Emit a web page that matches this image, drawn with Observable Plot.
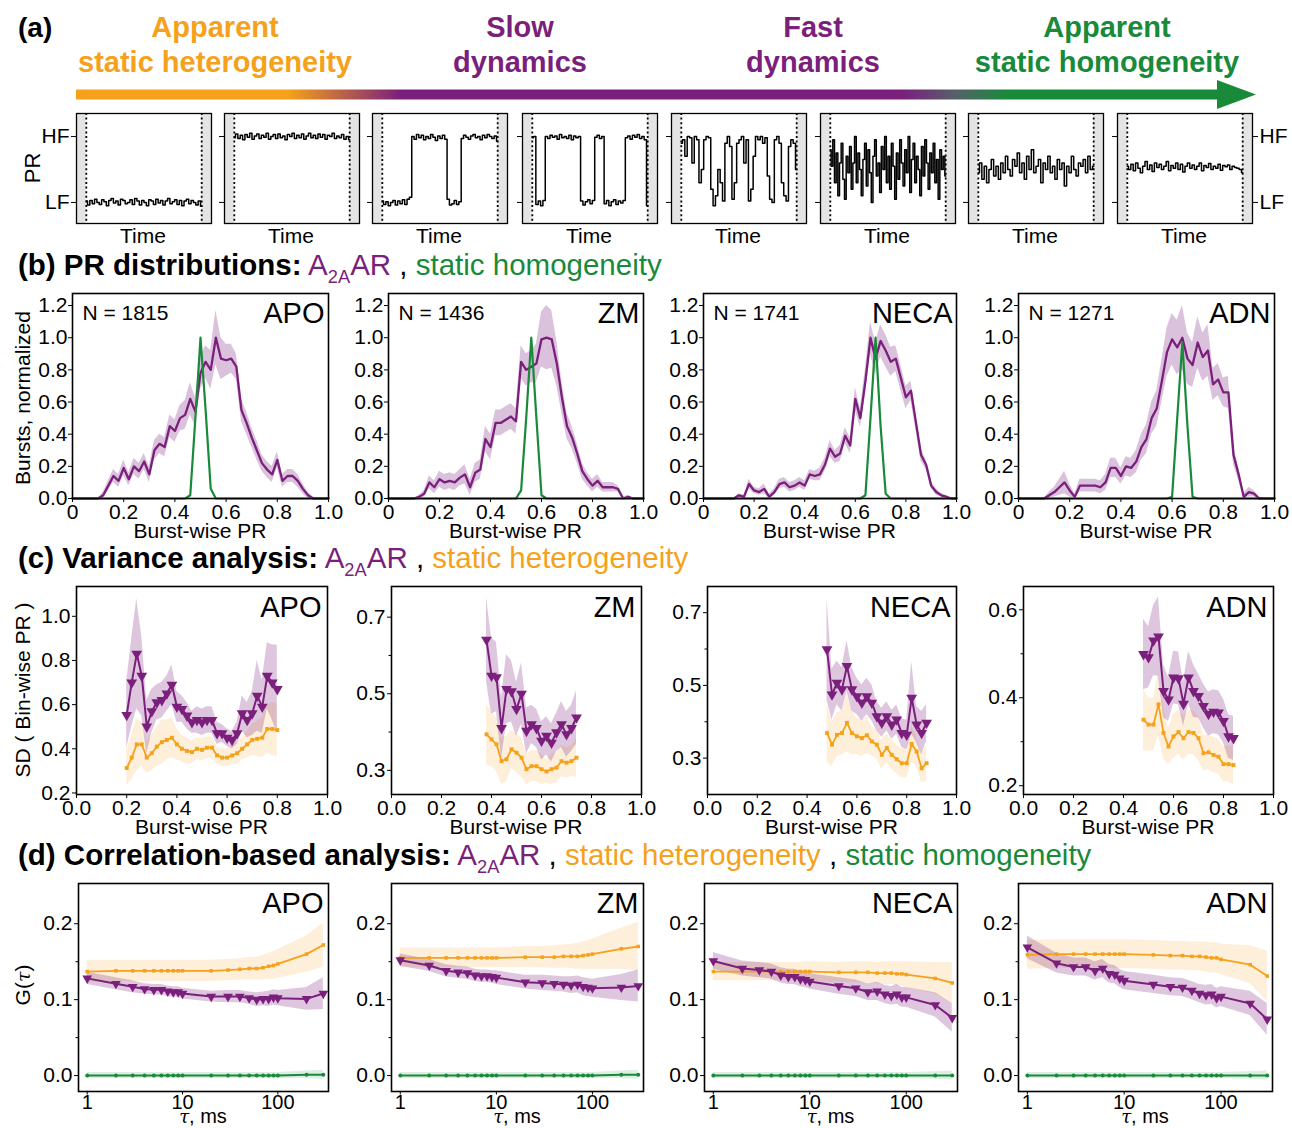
<!DOCTYPE html>
<html><head><meta charset="utf-8">
<script src="https://cdn.jsdelivr.net/npm/d3@7"></script>
<script src="https://cdn.jsdelivr.net/npm/@observablehq/plot@0.6"></script>
<style>
body{margin:0;background:#fff;}
#root{position:relative;width:1292px;height:1128px;overflow:hidden;background:#fff;}
</style></head><body><div id="root"></div>
<script>
// ---------------- DATA ----------------
const DRUGS = ["APO", "ZM", "NECA", "ADN"];
const N_BURSTS = [1815, 1436, 1741, 1271];
const REGIME_LABELS = [["Apparent", "static heterogeneity"], ["Slow", "dynamics"], ["Fast", "dynamics"], ["Apparent", "static homogeneity"]];

// (a) schematic PR traces (0 = LF, 1 = HF)
const TRACE_1 = [0.02,-0.04,0.03,-0.02,0.05,0,-0.03,0.04,0.01,-0.05,0.03,0.06,-0.01,0.02,-0.04,0.05,0.03,-0.02,0.0,0.04,-0.03,0.06,0.02,-0.04,0.03,0.0,-0.05,0.04,0.02,-0.03,0.05,-0.01,0.03,-0.04,0.02,0.06,-0.02,0.01,0.04,-0.03,0.03,-0.05,0.02,0.05,-0.02,0.03,0.0,-0.04,0.02,-0.06];
const TRACE_2 = [0.98,1.04,0.97,1.02,0.95,1.03,0.99,1.05,0.96,1.01,1.04,0.97,1.02,0.99,1.05,0.96,1.0,1.03,0.97,1.04,0.98,1.01,0.95,1.03,1.0,1.05,0.97,1.02,0.98,1.04,0.96,1.01,1.05,0.98,1.02,0.97,1.04,0.99,1.03,0.96,1.02,1.0,1.05,0.97,1.01,0.98,1.03,0.96,1.0,0.95];
const TRACE_3 = [0.02,-0.03,0.01,-0.05,0.0,0.03,-0.04,0.02,-0.02,0.04,-0.03,0.05,0.08,1.0,0.96,1.03,0.98,1.02,0.95,1.0,0.97,1.03,0.99,0.94,1.01,0.97,1.02,0.96,0.05,-0.04,-0.02,0.03,-0.03,0.01,0.97,1.02,0.99,0.96,1.01,1.03,0.98,1.0,0.95,1.02,0.98,1.03,1.0,0.97,1.01,0.93];
const TRACE_4 = [0.98,1.0,-0.03,0.02,-0.05,0.03,1.0,0.97,1.02,0.99,1.01,0.96,1.03,0.98,1.0,0.97,1.02,0.95,1.01,0.98,1.0,0.02,-0.04,0.01,0.04,-0.02,0.03,0.99,1.02,0.97,1.0,-0.02,0.03,-0.05,0.01,0.04,-0.03,0.02,-0.01,0.03,0.98,1.01,0.96,1.02,0.99,1.03,0.97,1.0,0.95,-0.05];
const TRACE_5 = [0.9,0.95,0.7,1.0,0.98,0.6,1.0,0.95,0.3,0.5,0.95,1.0,0.98,0.2,-0.05,0.1,0.5,0.3,0.02,0.9,1.0,0.85,0.05,0.3,0.9,0.95,1.0,0.6,0.95,0.02,0.2,0.7,1.0,0.95,1.0,0.9,0.98,0.4,0.05,0.0,0.95,1.0,0.9,0.3,0.1,0.02,0.85,0.95,0.9,0.5];
const TRACE_6 = [0.8,0.55,0.95,0.3,0.75,0.1,0.6,0.9,0.35,0.05,0.7,0.45,0.85,0.2,0.6,1.0,0.3,0.75,0.5,0.1,0.65,0.9,0.25,0.8,0.45,0.0,0.7,0.95,0.4,0.6,0.15,0.85,0.5,1.0,0.3,0.7,0.2,0.9,0.55,0.05,0.75,0.35,0.95,0.6,0.25,0.8,0.45,1.0,0.15,0.65,0.9,0.3,0.7,0.5,0.1,0.85,0.4,0.95,0.6,0.2,0.75,0.45,0.9,0.3,0.65,0.05,0.8,0.5,0.7,0.4];
const TRACE_7 = [0.45,0.6,0.35,0.55,0.3,0.5,0.65,0.4,0.55,0.35,0.6,0.45,0.7,0.5,0.4,0.65,0.55,0.75,0.45,0.6,0.35,0.7,0.5,0.8,0.45,0.55,0.65,0.3,0.6,0.5,0.7,0.45,0.55,0.35,0.65,0.5,0.6,0.25,0.55,0.45,0.7,0.5,0.4,0.6,0.55,0.65,0.45,0.7,0.5,0.55];
const TRACE_8 = [0.55,0.5,0.58,0.48,0.6,0.52,0.45,0.55,0.62,0.5,0.57,0.47,0.6,0.53,0.58,0.5,0.55,0.62,0.48,0.56,0.52,0.6,0.5,0.58,0.46,0.55,0.6,0.52,0.57,0.5,0.55,0.6,0.48,0.56,0.53,0.59,0.5,0.55,0.52,0.58,0.49,0.56,0.54,0.57,0.5,0.55,0.53,0.52,0.5,0.45];

// (b) PR distributions
const PR_BINS = [0,0.02,0.04,0.06,0.08,0.1,0.12,0.14,0.16,0.18,0.2,0.22,0.24,0.26,0.28,0.3,0.32,0.34,0.36,0.38,0.4,0.42,0.44,0.46,0.48,0.5,0.52,0.54,0.56,0.58,0.6,0.62,0.64,0.66,0.68,0.7,0.72,0.74,0.76,0.78,0.8,0.82,0.84,0.86,0.88,0.9,0.92,0.94,0.96,0.98,1.0];
const APO_PR = [0,0,0,0,0,0,0.02,0.08,0.14,0.11,0.19,0.12,0.20,0.17,0.23,0.15,0.30,0.34,0.32,0.45,0.42,0.50,0.52,0.62,0.54,0.78,0.85,0.80,1.00,0.87,0.86,0.87,0.82,0.55,0.47,0.38,0.30,0.22,0.18,0.15,0.24,0.11,0.14,0.14,0.11,0.06,0.02,0,0,0,0];
const ZM_PR = [0,0,0,0,0,0,0.01,0.03,0.10,0.07,0.12,0.10,0.11,0.10,0.13,0.15,0.07,0.16,0.18,0.37,0.32,0.47,0.47,0.49,0.51,0.48,0.85,0.80,0.82,0.84,0.99,1.00,0.99,0.84,0.63,0.45,0.38,0.28,0.17,0.12,0.08,0.11,0.07,0.07,0.07,0.06,0,0.01,0,0,0];
const NECA_PR = [0,0,0,0,0,0,0,0.02,0.01,0.09,0.05,0.04,0.06,0.01,0.04,0.09,0.10,0.07,0.08,0.10,0.08,0.15,0.14,0.15,0.21,0.31,0.26,0.28,0.39,0.33,0.62,0.50,0.73,1.00,0.87,0.98,0.92,0.85,0.87,0.75,0.63,0.67,0.47,0.27,0.21,0.08,0.04,0.02,0.01,0,0];
const ADN_PR = [0,0,0,0,0,0,0.02,0.04,0.07,0.10,0.05,0.01,0.08,0.08,0.08,0.08,0.07,0.10,0.19,0.19,0.14,0.20,0.19,0.23,0.32,0.37,0.50,0.56,0.73,0.91,0.99,0.94,1.00,0.87,0.83,0.97,0.88,0.92,0.71,0.74,0.66,0.66,0.27,0.15,0.01,0.04,0.03,0,0,0,0];
const APO_PR_ERR = [0,0,0,0,0,0,0.02,0.03,0.04,0.04,0.05,0.04,0.05,0.05,0.05,0.05,0.06,0.06,0.06,0.07,0.07,0.08,0.09,0.10,0.09,0.10,0.10,0.12,0.17,0.13,0.10,0.09,0.08,0.07,0.07,0.06,0.06,0.05,0.05,0.05,0.05,0.04,0.04,0.04,0.04,0.03,0.02,0.01,0,0,0];
const ZM_PR_ERR = [0,0,0,0,0,0,0.01,0.02,0.04,0.04,0.05,0.05,0.05,0.05,0.05,0.06,0.05,0.06,0.06,0.08,0.08,0.08,0.08,0.08,0.08,0.08,0.10,0.10,0.10,0.12,0.17,0.20,0.18,0.14,0.10,0.08,0.07,0.06,0.05,0.04,0.04,0.04,0.03,0.03,0.03,0.02,0.01,0.01,0,0,0];
const NECA_PR_ERR = [0,0,0,0,0,0,0,0.01,0.01,0.03,0.02,0.02,0.03,0.02,0.02,0.03,0.03,0.03,0.03,0.03,0.03,0.03,0.03,0.04,0.04,0.05,0.04,0.05,0.05,0.05,0.07,0.06,0.08,0.10,0.10,0.10,0.10,0.09,0.08,0.08,0.07,0.06,0.05,0.04,0.03,0.02,0.02,0.01,0.01,0,0];
const ADN_PR_ERR = [0,0,0,0,0,0,0.02,0.03,0.05,0.07,0.04,0.02,0.04,0.04,0.04,0.04,0.04,0.05,0.06,0.06,0.05,0.06,0.06,0.07,0.08,0.09,0.10,0.11,0.13,0.15,0.16,0.17,0.20,0.16,0.14,0.16,0.15,0.16,0.10,0.10,0.09,0.10,0.06,0.04,0.02,0.03,0.02,0.01,0,0,0];
const APO_PR_HOMO = [0,0,0,0,0,0,0,0,0,0,0,0,0,0,0,0,0,0,0,0,0,0,0,0.02,0.5,1.0,0.55,0.06,0,0,0,0,0,0,0,0,0,0,0,0,0,0,0,0,0,0,0,0,0,0,0];
const ZM_PR_HOMO = [0,0,0,0,0,0,0,0,0,0,0,0,0,0,0,0,0,0,0,0,0,0,0,0,0,0,0.05,0.5,1.0,0.5,0.02,0,0,0,0,0,0,0,0,0,0,0,0,0,0,0,0,0,0,0,0];
const NECA_PR_HOMO = [0,0,0,0,0,0,0,0,0,0,0,0,0,0,0,0,0,0,0,0,0,0,0,0,0,0,0,0,0,0,0,0,0.02,0.5,1.0,0.45,0.03,0,0,0,0,0,0,0,0,0,0,0,0,0,0];
const ADN_PR_HOMO = [0,0,0,0,0,0,0,0,0,0,0,0,0,0,0,0,0,0,0,0,0,0,0,0,0,0,0,0,0,0,0.01,0.5,0.97,0.45,0.01,0,0,0,0,0,0,0,0,0,0,0,0,0,0,0,0];

// (c) variance analysis
const APO_SD_X = [0.2,0.22,0.24,0.26,0.28,0.3,0.32,0.34,0.36,0.38,0.4,0.42,0.44,0.46,0.48,0.5,0.52,0.54,0.56,0.58,0.6,0.62,0.64,0.66,0.68,0.7,0.72,0.74,0.76,0.78,0.8];
const APO_SD_A2A = [0.553,0.70,0.83,0.73,0.50,0.57,0.61,0.62,0.65,0.69,0.59,0.58,0.55,0.52,0.53,0.52,0.53,0.53,0.47,0.47,0.45,0.44,0.47,0.56,0.53,0.56,0.64,0.59,0.73,0.70,0.67];
const APO_SD_A2A_ERR = [0.15,0.2,0.25,0.18,0.12,0.1,0.08,0.08,0.08,0.09,0.07,0.06,0.06,0.05,0.06,0.06,0.06,0.06,0.05,0.04,0.04,0.04,0.05,0.08,0.08,0.1,0.16,0.12,0.15,0.17,0.2];
const APO_SD_HET = [0.313,0.36,0.42,0.42,0.36,0.38,0.41,0.43,0.44,0.45,0.42,0.40,0.39,0.385,0.40,0.395,0.405,0.405,0.37,0.36,0.36,0.37,0.38,0.40,0.42,0.44,0.445,0.45,0.49,0.49,0.485];
const APO_SD_HET_ERR = [0.08,0.1,0.12,0.1,0.07,0.08,0.09,0.1,0.09,0.09,0.07,0.06,0.06,0.05,0.05,0.05,0.05,0.05,0.04,0.04,0.04,0.04,0.05,0.05,0.06,0.07,0.08,0.09,0.11,0.12,0.12];
const ZM_SD_X = [0.38,0.4,0.42,0.44,0.46,0.48,0.5,0.52,0.54,0.56,0.58,0.6,0.62,0.64,0.66,0.68,0.7,0.72,0.74];
const ZM_SD_A2A = [0.641,0.547,0.543,0.41,0.512,0.506,0.46,0.50,0.403,0.42,0.41,0.377,0.39,0.372,0.399,0.42,0.394,0.41,0.438];
const ZM_SD_A2A_ERR = [0.11,0.1,0.09,0.08,0.09,0.08,0.07,0.08,0.06,0.05,0.05,0.05,0.05,0.05,0.05,0.06,0.06,0.06,0.07];
const ZM_SD_HET = [0.394,0.381,0.368,0.324,0.329,0.355,0.346,0.333,0.303,0.311,0.311,0.303,0.297,0.303,0.307,0.324,0.32,0.324,0.333];
const ZM_SD_HET_ERR = [0.08,0.07,0.07,0.06,0.06,0.05,0.05,0.05,0.04,0.04,0.04,0.04,0.03,0.04,0.04,0.04,0.04,0.04,0.05];
const NECA_SD_X = [0.48,0.5,0.52,0.54,0.56,0.58,0.6,0.62,0.64,0.66,0.68,0.7,0.72,0.74,0.76,0.78,0.8,0.82,0.84,0.86,0.88];
const NECA_SD_A2A = [0.599,0.475,0.507,0.489,0.553,0.489,0.47,0.452,0.47,0.452,0.415,0.397,0.415,0.392,0.406,0.369,0.364,0.466,0.392,0.369,0.397];
const NECA_SD_A2A_ERR = [0.14,0.07,0.06,0.06,0.07,0.06,0.05,0.05,0.05,0.05,0.04,0.04,0.04,0.04,0.04,0.04,0.04,0.1,0.05,0.06,0.05];
const NECA_SD_HET = [0.369,0.337,0.364,0.369,0.397,0.369,0.36,0.355,0.363,0.346,0.337,0.309,0.328,0.309,0.297,0.286,0.286,0.339,0.318,0.272,0.286];
const NECA_SD_HET_ERR = [0.08,0.06,0.06,0.06,0.08,0.06,0.05,0.05,0.05,0.04,0.04,0.04,0.04,0.04,0.04,0.04,0.04,0.05,0.04,0.04,0.05];
const ADN_SD_X = [0.48,0.5,0.52,0.54,0.56,0.58,0.6,0.62,0.64,0.66,0.68,0.7,0.72,0.74,0.76,0.78,0.8,0.82,0.84];
const ADN_SD_A2A = [0.499,0.492,0.53,0.539,0.415,0.396,0.446,0.444,0.386,0.446,0.415,0.404,0.381,0.363,0.368,0.366,0.347,0.312,0.308];
const ADN_SD_A2A_ERR = [0.08,0.07,0.08,0.09,0.06,0.05,0.06,0.06,0.05,0.06,0.06,0.05,0.05,0.05,0.05,0.05,0.05,0.05,0.05];
const ADN_SD_HET = [0.35,0.339,0.339,0.385,0.32,0.289,0.312,0.322,0.308,0.322,0.32,0.308,0.274,0.276,0.27,0.266,0.249,0.249,0.247];
const ADN_SD_HET_ERR = [0.07,0.06,0.06,0.07,0.06,0.04,0.05,0.05,0.05,0.05,0.05,0.05,0.04,0.04,0.04,0.04,0.04,0.04,0.045];

// (d) correlation analysis
const TAU_MS = [1,2,3,4,5,6,7,8,9,10,20,30,40,50,60,70,80,90,100,200,300];
const APO_G_HET = [0.137,0.138,0.138,0.138,0.138,0.138,0.138,0.138,0.138,0.138,0.138,0.139,0.140,0.141,0.141,0.142,0.144,0.145,0.147,0.160,0.172];
const APO_G_A2A = [0.128,0.121,0.117,0.114,0.113,0.113,0.111,0.110,0.110,0.108,0.104,0.104,0.104,0.102,0.100,0.101,0.101,0.103,0.102,0.101,0.108];
const APO_G_HOMO = [0,0,0,0,0,0,0,0,0,0,0,0,0,0,0,0,0,0,0,0.001,0.001];
const ZM_G_HET = [0.155,0.155,0.155,0.155,0.155,0.155,0.155,0.155,0.155,0.155,0.156,0.156,0.156,0.157,0.157,0.157,0.158,0.159,0.160,0.167,0.170];
const ZM_G_A2A = [0.152,0.145,0.138,0.136,0.135,0.132,0.131,0.131,0.130,0.129,0.123,0.122,0.121,0.120,0.119,0.120,0.117,0.116,0.115,0.116,0.118];
const ZM_G_HOMO = [0,0,0,0,0,0,0,0,0,0,0,0,0,0,0,0,0,0,0,0.001,0.001];
const NECA_G_HET = [0.137,0.137,0.137,0.137,0.137,0.137,0.137,0.137,0.137,0.137,0.136,0.136,0.136,0.135,0.135,0.135,0.134,0.134,0.133,0.128,0.122];
const NECA_G_A2A = [0.151,0.141,0.139,0.137,0.132,0.130,0.130,0.127,0.126,0.124,0.118,0.115,0.110,0.111,0.107,0.105,0.107,0.103,0.103,0.093,0.076];
const NECA_G_HOMO = [0,0,0,0,0,0,0,0,0,0,0,0,0,0,0,0,0,0,0,0,0];
const ADN_G_HET = [0.159,0.160,0.160,0.160,0.160,0.160,0.160,0.160,0.160,0.160,0.159,0.158,0.158,0.157,0.157,0.156,0.155,0.155,0.153,0.146,0.131];
const ADN_G_A2A = [0.169,0.148,0.143,0.143,0.138,0.141,0.134,0.133,0.128,0.125,0.120,0.117,0.116,0.112,0.108,0.106,0.107,0.102,0.104,0.095,0.074];
const ADN_G_HOMO = [0,0,0,0,0,0,0,0,0,0,0,0,0,0,0,0,0,0,0,0,0];
const APO_G_HET_ERR = [0.015,0.014,0.014,0.014,0.014,0.014,0.014,0.014,0.014,0.014,0.014,0.014,0.014,0.015,0.015,0.016,0.017,0.018,0.019,0.024,0.029];
const APO_G_A2A_ERR = [0.008,0.008,0.008,0.007,0.007,0.007,0.007,0.007,0.007,0.007,0.007,0.008,0.008,0.008,0.009,0.009,0.010,0.010,0.010,0.015,0.021];
const ZM_G_HET_ERR = [0.013,0.013,0.013,0.013,0.013,0.013,0.013,0.013,0.013,0.013,0.014,0.014,0.015,0.015,0.016,0.017,0.018,0.019,0.020,0.027,0.032];
const ZM_G_A2A_ERR = [0.008,0.008,0.008,0.008,0.008,0.008,0.008,0.008,0.008,0.009,0.009,0.010,0.010,0.010,0.011,0.011,0.012,0.012,0.012,0.017,0.021];
const NECA_G_HET_ERR = [0.012,0.012,0.012,0.012,0.012,0.012,0.012,0.012,0.013,0.013,0.013,0.014,0.014,0.014,0.015,0.015,0.016,0.016,0.017,0.021,0.027];
const NECA_G_A2A_ERR = [0.011,0.010,0.010,0.010,0.010,0.010,0.010,0.010,0.010,0.010,0.011,0.011,0.011,0.012,0.012,0.012,0.013,0.013,0.013,0.016,0.019];
const ADN_G_HET_ERR = [0.019,0.019,0.019,0.019,0.019,0.019,0.019,0.019,0.019,0.019,0.019,0.019,0.019,0.019,0.019,0.020,0.020,0.020,0.020,0.025,0.033];
const ADN_G_A2A_ERR = [0.015,0.013,0.012,0.012,0.012,0.012,0.012,0.012,0.012,0.012,0.012,0.012,0.012,0.012,0.012,0.013,0.013,0.013,0.013,0.016,0.021];
const G_HOMO_ERR = [0.004,0.004,0.004,0.004,0.004,0.004,0.004,0.004,0.004,0.004,0.004,0.004,0.004,0.004,0.004,0.004,0.004,0.004,0.004,0.005,0.006];

// axis tick lists
const PR_TICKS = [0, 0.2, 0.4, 0.6, 0.8, 1.0];
const DIST_Y_TICKS = [0, 0.2, 0.4, 0.6, 0.8, 1.0, 1.2];
const TAU_TICKS = [1, 10, 100];
const G_TICKS = [0, 0.1, 0.2];
const G_MINOR = [0.05, 0.15];

// ---------------- STYLE / LAYOUT ----------------
const FONT = "'Liberation Sans', Arial, Helvetica, sans-serif";
const PURPLE = "#7B1F7C", ORANGE = "#F5A11B", GREEN = "#188A3A";
const root = document.getElementById("root");
const STYLE = {fontFamily: FONT, fontSize: "21px", color: "black", background: "transparent", overflow: "visible"};

function txt(html, x, y, o = {}) {
  const d = document.createElement("div");
  d.innerHTML = html;
  const size = o.size || 21;
  const tx = o.align === "start" ? "0" : "-50%";
  d.style.cssText = `position:absolute;left:${x}px;top:${y}px;font-family:${o.family || FONT};font-size:${size}px;font-weight:${o.weight || "normal"};color:${o.color || "#000"};line-height:1;white-space:nowrap;transform:translate(${tx},-50%) rotate(${o.rotate || 0}deg);`;
  root.appendChild(d);
}
function mount(plot, fl, ft, ml, mt) {
  plot.style.position = "absolute";
  plot.style.left = (fl - ml) + "px";
  plot.style.top = (ft - mt) + "px";
  root.appendChild(plot);
}
const TRI_DOWN = {draw(ctx, size) {
  const y = Math.sqrt(size / (Math.sqrt(3) * 3));
  ctx.moveTo(0, 2 * y); ctx.lineTo(-Math.sqrt(3) * y, -y); ctx.lineTo(Math.sqrt(3) * y, -y); ctx.closePath();
}};

// ---------------- (a) ----------------
txt("(a)", 18, 28, {size: 28, weight: "bold", align: "start"});
const HEAD_X = [215, 520, 813, 1107];
const HEAD_C = [ORANGE, PURPLE, PURPLE, GREEN];
REGIME_LABELS.forEach((l, i) => {
  txt(l[0], HEAD_X[i], 27, {size: 29, weight: "bold", color: HEAD_C[i]});
  txt(l[1], HEAD_X[i], 62, {size: 29, weight: "bold", color: HEAD_C[i]});
});
{
  const s = d3.create("svg").attr("width", 1292).attr("height", 130).style("position", "absolute").style("left", "0px").style("top", "0px");
  const g = s.append("defs").append("linearGradient").attr("id", "arrowGrad").attr("gradientUnits", "userSpaceOnUse").attr("x1", 76).attr("x2", 1256).attr("y1", 0).attr("y2", 0);
  [[0, ORANGE], [0.18, ORANGE], [0.275, PURPLE], [0.70, PURPLE], [0.745, "#56606A"], [0.79, GREEN], [1, GREEN]].forEach(([o, c]) => g.append("stop").attr("offset", o).attr("stop-color", c));
  s.append("rect").attr("x", 76).attr("y", 89.5).attr("width", 1144).attr("height", 10).attr("fill", "url(#arrowGrad)");
  s.append("polygon").attr("points", "1217,80 1256,94.5 1217,109").attr("fill", "url(#arrowGrad)");
  root.appendChild(s.node());
}
const TRACES = [TRACE_1, TRACE_2, TRACE_3, TRACE_4, TRACE_5, TRACE_6, TRACE_7, TRACE_8];
const BOX_LEFT = [76, 224, 372, 522, 671, 820, 968, 1117];
TRACES.forEach((tr, k) => {
  const rows = tr.map((v, i) => ({t: i / (tr.length - 1), v}));
  const ml = 40, mr = 40, mt = 5, mb = 5;
  const hfLf = d => d ? "HF" : "LF";
  const p = Plot.plot({
    width: 135 + ml + mr, height: 110 + mt + mb, marginLeft: ml, marginRight: mr, marginTop: mt, marginBottom: mb,
    style: STYLE,
    x: {domain: [-0.085, 1.085], axis: null},
    y: {domain: [-0.32, 1.35], axis: null},
    marks: [
      Plot.rect([0], {x1: -0.085, x2: 0, y1: -0.32, y2: 1.35, fill: "#E4E4E4"}),
      Plot.rect([0], {x1: 1, x2: 1.085, y1: -0.32, y2: 1.35, fill: "#E4E4E4"}),
      Plot.ruleX([0, 1], {stroke: "black", strokeWidth: 1.8, strokeDasharray: "2,2.6"}),
      Plot.line(rows, {x: "t", y: "v", curve: "step", stroke: "black", strokeWidth: 1.5}),
      Plot.frame({stroke: "black", strokeWidth: 1.3}),
      Plot.axisY({ticks: [0, 1], anchor: "left", tickSize: 5, tickPadding: 2, tickFormat: k === 0 ? hfLf : () => "", label: null, fontSize: 21}),
      k === 7 ? Plot.axisY({ticks: [0, 1], anchor: "right", tickSize: 5, tickPadding: 2, tickFormat: hfLf, label: null, fontSize: 21}) : null
    ]
  });
  mount(p, BOX_LEFT[k], 113, ml, mt);
  txt("Time", BOX_LEFT[k] + 67, 235, {size: 21});
});
txt("PR", 33, 168, {size: 22, rotate: -90});

// ---------------- row titles ----------------
const A2A = `<span style="color:${PURPLE}">A<sub style="font-size:0.62em;vertical-align:-0.45em">2A</sub>AR</span>`;
txt(`<b>(b) PR distributions:</b> ${A2A} , <span style="color:${GREEN}">static homogeneity</span>`, 18, 268, {size: 29.5, align: "start"});
txt(`<b>(c) Variance analysis:</b> ${A2A} , <span style="color:${ORANGE}">static heterogeneity</span>`, 18, 561, {size: 29.5, align: "start"});
txt(`<b>(d) Correlation-based analysis:</b> ${A2A} , <span style="color:${ORANGE}">static heterogeneity</span> , <span style="color:${GREEN}">static homogeneity</span>`, 18, 858, {size: 29.5, align: "start"});

// ---------------- (b) ----------------
const B_PR = [APO_PR, ZM_PR, NECA_PR, ADN_PR];
const B_ERR = [APO_PR_ERR, ZM_PR_ERR, NECA_PR_ERR, ADN_PR_ERR];
const B_HOMO = [APO_PR_HOMO, ZM_PR_HOMO, NECA_PR_HOMO, ADN_PR_HOMO];
const B_LEFT = [72, 388, 703, 1018], B_RIGHT = [328, 643, 956, 1274];
DRUGS.forEach((name, k) => {
  const rows = PR_BINS.map((x, i) => ({x, y: B_PR[k][i], lo: Math.max(0, B_PR[k][i] - B_ERR[k][i]), hi: B_PR[k][i] + B_ERR[k][i], g: B_HOMO[k][i]}));
  const fw = B_RIGHT[k] - B_LEFT[k], fh = 205, ml = 55, mr = 15, mt = 10, mb = 35;
  const p = Plot.plot({
    width: fw + ml + mr, height: fh + mt + mb, marginLeft: ml, marginRight: mr, marginTop: mt, marginBottom: mb,
    style: STYLE,
    x: {domain: [0, 1], axis: null},
    y: {domain: [0, 1.275], axis: null},
    marks: [
      Plot.areaY(rows, {x: "x", y1: "lo", y2: "hi", fill: PURPLE, fillOpacity: 0.27}),
      Plot.lineY(rows, {x: "x", y: "y", stroke: PURPLE, strokeWidth: 2.3}),
      Plot.lineY(rows, {x: "x", y: "g", stroke: GREEN, strokeWidth: 2.2}),
      Plot.frame({stroke: "black", strokeWidth: 1.6}),
      Plot.axisX({ticks: PR_TICKS, tickFormat: d => d === 0 ? "0" : d.toFixed(1), tickSize: 4, tickPadding: 2, label: null, fontSize: 21}),
      Plot.axisY({ticks: DIST_Y_TICKS, tickFormat: d => d.toFixed(1), tickSize: 4, tickPadding: 1, label: null, fontSize: 21}),
      Plot.text([`N = ${N_BURSTS[k]}`], {text: d => d, frameAnchor: "top-left", dx: 10, dy: 20, textAnchor: "start", lineAnchor: "middle", fontSize: 21}),
      Plot.text([name], {text: d => d, frameAnchor: "top-right", dx: -4, dy: 20, textAnchor: "end", lineAnchor: "middle", fontSize: 29})
    ]
  });
  mount(p, B_LEFT[k], 293, ml, mt);
  txt("Burst-wise PR", (B_LEFT[k] + B_RIGHT[k]) / 2, 530, {size: 21});
});
txt("Bursts, normalized", 22, 398, {size: 21, rotate: -90});

// ---------------- (c) ----------------
const C_X = [APO_SD_X, ZM_SD_X, NECA_SD_X, ADN_SD_X];
const C_A2A = [APO_SD_A2A, ZM_SD_A2A, NECA_SD_A2A, ADN_SD_A2A];
const C_A2A_ERR = [APO_SD_A2A_ERR, ZM_SD_A2A_ERR, NECA_SD_A2A_ERR, ADN_SD_A2A_ERR];
const C_HET = [APO_SD_HET, ZM_SD_HET, NECA_SD_HET, ADN_SD_HET];
const C_HET_ERR = [APO_SD_HET_ERR, ZM_SD_HET_ERR, NECA_SD_HET_ERR, ADN_SD_HET_ERR];
const C_YDOM = [[0.193, 1.135], [0.237, 0.78], [0.2, 0.772], [0.18, 0.653]];
const C_YTICKS = [[0.2, 0.4, 0.6, 0.8, 1.0], [0.3, 0.5, 0.7], [0.3, 0.5, 0.7], [0.2, 0.4, 0.6]];
const C_YMINOR = [[], [0.4, 0.6], [0.4, 0.6], [0.3, 0.5]];
const C_LEFT = [76, 391, 707, 1023], C_RIGHT = [327, 641, 956, 1273];
DRUGS.forEach((name, k) => {
  const rows = C_X[k].map((x, i) => ({x, p: C_A2A[k][i], plo: C_A2A[k][i] - C_A2A_ERR[k][i], phi: C_A2A[k][i] + C_A2A_ERR[k][i], o: C_HET[k][i], olo: C_HET[k][i] - C_HET_ERR[k][i], ohi: C_HET[k][i] + C_HET_ERR[k][i]}));
  const fw = C_RIGHT[k] - C_LEFT[k], fh = 208, ml = 55, mr = 15, mt = 10, mb = 35;
  const p = Plot.plot({
    width: fw + ml + mr, height: fh + mt + mb, marginLeft: ml, marginRight: mr, marginTop: mt, marginBottom: mb,
    style: STYLE,
    x: {domain: [0, 1], axis: null},
    y: {domain: C_YDOM[k], axis: null},
    marks: [
      Plot.areaY(rows, {x: "x", y1: "olo", y2: "ohi", fill: ORANGE, fillOpacity: 0.17}),
      Plot.areaY(rows, {x: "x", y1: "plo", y2: "phi", fill: PURPLE, fillOpacity: 0.25}),
      Plot.lineY(rows, {x: "x", y: "o", stroke: ORANGE, strokeWidth: 1.8}),
      Plot.dot(rows, {x: "x", y: "o", symbol: "square", r: 2.2, fill: ORANGE}),
      Plot.lineY(rows, {x: "x", y: "p", stroke: PURPLE, strokeWidth: 2}),
      Plot.dot(rows, {x: "x", y: "p", symbol: TRI_DOWN, r: 4, fill: PURPLE}),
      Plot.frame({stroke: "black", strokeWidth: 1.6}),
      Plot.axisX({ticks: PR_TICKS, tickFormat: d => d.toFixed(1), tickSize: 4, tickPadding: 2, label: null, fontSize: 21}),
      Plot.axisY({ticks: C_YTICKS[k], tickFormat: d => d.toFixed(1), tickSize: 4, tickPadding: 2, label: null, fontSize: 21}),
      C_YMINOR[k].length ? Plot.axisY({ticks: C_YMINOR[k], tickFormat: () => "", tickSize: 2.5, label: null}) : null,
      Plot.text([name], {text: d => d, frameAnchor: "top-right", dx: -6, dy: 21, textAnchor: "end", lineAnchor: "middle", fontSize: 29})
    ]
  });
  mount(p, C_LEFT[k], 586, ml, mt);
  txt("Burst-wise PR", (C_LEFT[k] + C_RIGHT[k]) / 2, 826, {size: 21});
});
txt("SD ( Bin-wise PR )", 22, 690, {size: 21, rotate: -90});

// ---------------- (d) ----------------
const D_HET = [APO_G_HET, ZM_G_HET, NECA_G_HET, ADN_G_HET];
const D_A2A = [APO_G_A2A, ZM_G_A2A, NECA_G_A2A, ADN_G_A2A];
const D_HOMO = [APO_G_HOMO, ZM_G_HOMO, NECA_G_HOMO, ADN_G_HOMO];
const D_HET_ERR = [APO_G_HET_ERR, ZM_G_HET_ERR, NECA_G_HET_ERR, ADN_G_HET_ERR];
const D_A2A_ERR = [APO_G_A2A_ERR, ZM_G_A2A_ERR, NECA_G_A2A_ERR, ADN_G_A2A_ERR];
const D_LEFT = [78, 391, 704, 1018], D_RIGHT = [328, 643, 957, 1272];
DRUGS.forEach((name, k) => {
  const rows = TAU_MS.map((t, i) => ({t,
    o: D_HET[k][i], olo: D_HET[k][i] - D_HET_ERR[k][i], ohi: D_HET[k][i] + D_HET_ERR[k][i],
    p: D_A2A[k][i], plo: D_A2A[k][i] - D_A2A_ERR[k][i], phi: D_A2A[k][i] + D_A2A_ERR[k][i],
    g: D_HOMO[k][i], glo: D_HOMO[k][i] - G_HOMO_ERR[i], ghi: D_HOMO[k][i] + G_HOMO_ERR[i]}));
  const fw = D_RIGHT[k] - D_LEFT[k], fh = 208, ml = 55, mr = 15, mt = 10, mb = 30;
  const p = Plot.plot({
    width: fw + ml + mr, height: fh + mt + mb, marginLeft: ml, marginRight: mr, marginTop: mt, marginBottom: mb,
    style: STYLE,
    x: {type: "log", domain: [0.81, 340], axis: null},
    y: {domain: [-0.021, 0.253], axis: null},
    marks: [
      Plot.areaY(rows, {x: "t", y1: "ohi", y2: "olo", fill: ORANGE, fillOpacity: 0.17}),
      Plot.areaY(rows, {x: "t", y1: "plo", y2: "phi", fill: PURPLE, fillOpacity: 0.25}),
      Plot.areaY(rows, {x: "t", y1: "glo", y2: "ghi", fill: GREEN, fillOpacity: 0.15}),
      Plot.lineY(rows, {x: "t", y: "o", stroke: ORANGE, strokeWidth: 1.8}),
      Plot.dot(rows, {x: "t", y: "o", symbol: "square", r: 2, fill: ORANGE}),
      Plot.lineY(rows, {x: "t", y: "p", stroke: PURPLE, strokeWidth: 2}),
      Plot.dot(rows, {x: "t", y: "p", symbol: TRI_DOWN, r: 3.6, fill: PURPLE}),
      Plot.lineY(rows, {x: "t", y: "g", stroke: GREEN, strokeWidth: 2}),
      Plot.dot(rows, {x: "t", y: "g", r: 2, fill: GREEN}),
      Plot.frame({stroke: "black", strokeWidth: 1.6}),
      Plot.axisX({ticks: TAU_TICKS, tickFormat: d => String(d), tickSize: 3.5, tickPadding: 0, label: null, fontSize: 20}),
      Plot.axisY({ticks: G_TICKS, tickFormat: d => d.toFixed(1), tickSize: 4, tickPadding: 2, label: null, fontSize: 21}),
      Plot.axisY({ticks: G_MINOR, tickFormat: () => "", tickSize: 2.5, label: null}),
      Plot.text([name], {text: d => d, frameAnchor: "top-right", dx: -5, dy: 20, textAnchor: "end", lineAnchor: "middle", fontSize: 29})
    ]
  });
  mount(p, D_LEFT[k], 883, ml, mt);
  txt(`<i style="font-family:'DejaVu Serif',serif;font-size:0.9em">τ</i>, ms`, (D_LEFT[k] + D_RIGHT[k]) / 2, 1116, {size: 20});
});
txt(`G(<i style="font-family:'DejaVu Serif',serif;font-size:0.9em">τ</i>)`, 22, 985, {size: 21, rotate: -90});
</script></body></html>
